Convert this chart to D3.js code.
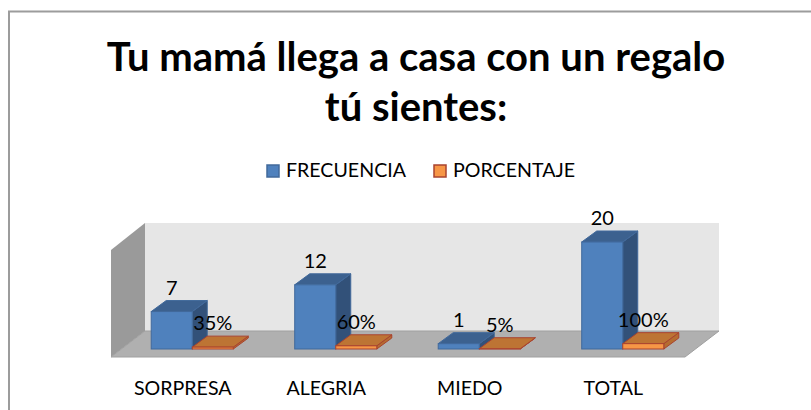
<!DOCTYPE html>
<html>
<head>
<meta charset="utf-8">
<script src="https://cdn.jsdelivr.net/npm/d3@7"></script>
<style>
  html, body { margin: 0; background: #fff; overflow: hidden; }
  text { font-family: Lato, "Open Sans", sans-serif; fill: #000; }
</style>
</head>
<body>
<svg width="811" height="410" style="display:block"></svg>
<script>
const categories = ["SORPRESA", "ALEGRIA", "MIEDO", "TOTAL"];
const seriesNames = ["FRECUENCIA", "PORCENTAJE"];
const frecuencia = [7, 12, 1, 20];
const porcentaje = [0.35, 0.6, 0.05, 1];
const porcentajeLabels = ["35%", "60%", "5%", "100%"];
const titleLines = ["Tu mamá llega a casa con un regalo", "tú sientes:"];

const svg = d3.select("svg");

// chart frame, only left and top are in the picture
svg.append("path")
  .attr("d", "M9,410V11.5H811")
  .attr("fill", "none")
  .attr("stroke", "#9c9c9c")
  .attr("stroke-width", 2);

svg.append("g").selectAll("text").data(titleLines).enter()
  .append("text")
  .attr("x", 416)
  .attr("y", (d, i) => 71 + i * 50)
  .attr("text-anchor", "middle")
  .style("font-size", "40px")
  .style("font-weight", "bold")
  .text(d => d);

// legend
const colors = [
  { front: "#4f81bd", top: "#3c618f", side: "#325179", stroke: "#41699b" },
  { front: "#f79646", top: "#bd7434", side: "#b56c30", stroke: "#a9432f" }
];
const legendX = [267, 434];
const legend = svg.append("g").selectAll("g").data(seriesNames).enter()
  .append("g")
  .attr("transform", (d, i) => `translate(${legendX[i]}, 165)`);
legend.append("rect")
  .attr("width", 12)
  .attr("height", 12)
  .attr("fill", (d, i) => colors[i].front)
  .attr("stroke", (d, i) => colors[i].stroke)
  .attr("stroke-width", 1.5);
legend.append("text")
  .attr("x", 19)
  .attr("y", 12)
  .style("font-size", "19.6px")
  .text(d => d);

// 3d box geometry
const floorLeft = 111, floorRight = 685, floorFront = 357;
const wallDx = 34, wallDy = 26, wallTop = 223;
const barDx = 15, barDy = 11;
const offsetX = 9.5, offsetY = 8;

const x = d3.scaleBand()
  .domain(categories)
  .range([floorLeft, floorRight])
  .paddingInner(0.428)
  .paddingOuter(0.214);
const xSeries = d3.scaleBand()
  .domain(seriesNames)
  .range([0, x.bandwidth()]);
const y = d3.scaleLinear()
  .domain([0, 20])
  .range([floorFront - offsetY, 242]);

const walls = svg.append("g");
walls.append("polygon")
  .attr("points", [[floorLeft + wallDx, wallTop], [floorRight + wallDx, wallTop], [floorRight + wallDx, floorFront - wallDy], [floorLeft + wallDx, floorFront - wallDy]].join(" "))
  .attr("fill", "#e6e6e6");
walls.append("polygon")
  .attr("points", [[floorLeft, wallTop + wallDy + 1], [floorLeft + wallDx, wallTop], [floorLeft + wallDx, floorFront - wallDy], [floorLeft, floorFront]].join(" "))
  .attr("fill", "#9a9a9a");
walls.append("polygon")
  .attr("points", [[floorLeft, floorFront], [floorLeft + wallDx, floorFront - wallDy], [floorRight + wallDx, floorFront - wallDy], [floorRight, floorFront]].join(" "))
  .attr("fill", "#b0b0b0")
  .attr("stroke", "#a0a0a0");

function drawBars(values, name, c) {
  const bars = svg.append("g").selectAll("g").data(values).enter().append("g");
  const left = (d, i) => x(categories[i]) + xSeries(name) + offsetX;
  const w = xSeries.bandwidth();
  const base = y(0);

  bars.append("polygon")
    .attr("points", (d, i) => {
      const l = left(d, i) + w;
      return [[l, y(d)], [l + barDx, y(d) - barDy], [l + barDx, base - barDy], [l, base]].join(" ");
    })
    .attr("fill", c.side).attr("stroke", c.stroke);
  bars.append("polygon")
    .attr("points", (d, i) => {
      const l = left(d, i);
      return [[l, y(d)], [l + barDx, y(d) - barDy], [l + w + barDx, y(d) - barDy], [l + w, y(d)]].join(" ");
    })
    .attr("fill", c.top).attr("stroke", c.stroke);
  bars.append("rect")
    .attr("x", left)
    .attr("y", d => y(d))
    .attr("width", w)
    .attr("height", d => base - y(d))
    .attr("fill", c.front).attr("stroke", c.stroke);
}
drawBars(frecuencia, seriesNames[0], colors[0]);
drawBars(porcentaje, seriesNames[1], colors[1]);

// data labels go on top of all the bars
const labelStyle = sel => sel
  .attr("text-anchor", "middle")
  .style("font-size", "20px");
svg.append("g").selectAll("text").data(frecuencia).enter()
  .append("text")
  .attr("x", (d, i) => x(categories[i]) + xSeries(seriesNames[0]) + offsetX + xSeries.bandwidth() / 2)
  .attr("y", d => y(d) - 17)
  .call(labelStyle)
  .text(d => d);
svg.append("g").selectAll("text").data(porcentaje).enter()
  .append("text")
  .attr("x", (d, i) => x(categories[i]) + xSeries(seriesNames[1]) + offsetX + xSeries.bandwidth() / 2)
  .attr("y", d => y(d) - 17)
  .call(labelStyle)
  .text((d, i) => porcentajeLabels[i]);

const xAxis = d3.axisBottom(x).tickSize(0).tickPadding(24);
const axisG = svg.append("g")
  .attr("transform", `translate(0, ${floorFront})`)
  .call(xAxis);
axisG.select(".domain").remove();
axisG.selectAll("text")
  .style("font-size", "19.6px")
  .style("font-family", "Lato, 'Open Sans', sans-serif");
</script>
</body>
</html>
